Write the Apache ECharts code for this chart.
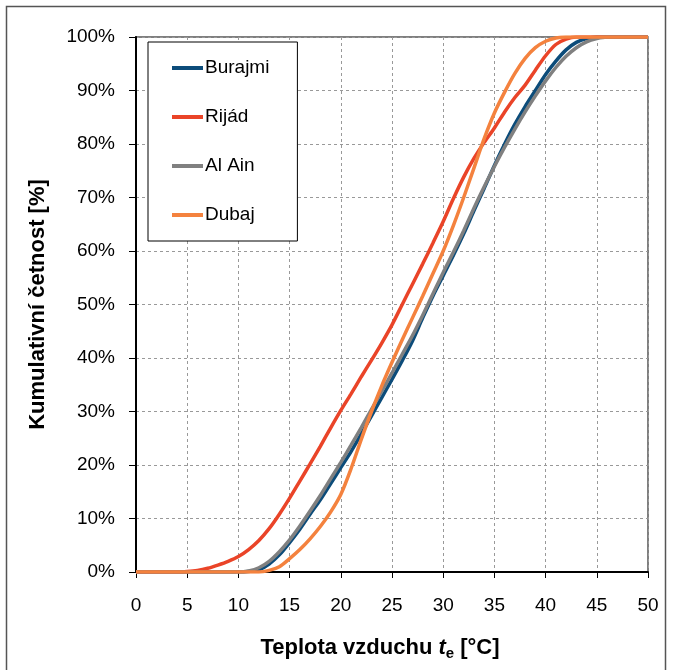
<!DOCTYPE html>
<html>
<head>
<meta charset="utf-8">
<script src="https://cdn.jsdelivr.net/npm/echarts@6/dist/echarts.min.js"></script>
<style>
  html, body { margin: 0; padding: 0; background: #fff; }
  #chart { width: 673px; height: 670px; }
</style>
</head>
<body>
<div id="chart"></div>
<script>
// teplota vzduchu [°C], krok 1 °C
var teploty = [0,1,2,3,4,5,6,7,8,9,10,11,12,13,14,15,16,17,18,19,20,21,22,23,24,25,
  26,27,28,29,30,31,32,33,34,35,36,37,38,39,40,41,42,43,44,45,46,47,48,49,50];

// kumulativni cetnost [%]
var burajmi = [0,0,0,0,0,0,0,0,0,0, 0,0.1,0.4,1.5,3.2,5.5,8,10.8,13.5,16.5,
  19.5,22.5,25.8,29.2,32.6,36,39.5,43.2,47.5,51.6, 55.4,59.2,63.2,67.5,71.7,76,80,83.7,87,90,
  93,95.5,97.6,99,99.7,100,100,100,100,100,100];
var rijad = [0,0,0,0,0,0.1,0.3,0.7,1.3,2,2.9,4.2,5.9,8.1,10.8,13.8,17,20.2,23.5,26.9,
  30.2,33.3,36.5,39.6,42.8,46.2,50,53.8,57.6,61.5, 65.5,69.8,73.8,77.3,80.3,83,86,88.7,91,93.8,
  96.5,98.6,99.6,100,100,100,100,100,100,100,100];
var alAin = [0,0,0,0,0,0,0,0,0,0, 0,0.2,0.8,2,3.8,6,8.6,11.4,14.3,17.4,
  20.5,23.7,27,30.4,33.8,37.2,40.7,44.2,48,52, 56,59.8,63.8,68,72,75.8,79.4,82.8,86,89,
  91.8,94.3,96.4,98,99.1,99.7,100,100,100,100,100];
var dubaj = [0,0,0,0,0,0,0,0,0,0, 0,0,0,0.3,1,2.5,4.2,6.2,8.5,11.2,
  14.5,19.3,24.8,30,34.8,39.2,43.4,47.5,51.6,55.8, 60,64.8,70,75.5,81,85.8,89.7,93.2,96,98,
  99.2,99.8,100,100,100,100,100,100,100,100,100];

var nazvy = ['Burajmi', 'Rijád', 'Al Ain', 'Dubaj'];
var barvy = ['#0C4C7A', '#EA4428', '#808080', '#F4823E'];
var hodnoty = [burajmi, rijad, alAin, dubaj];

var pismo = '"Liberation Sans", Arial, sans-serif';

function body(arr) {
  return teploty.map(function (x, i) { return [x, arr[i]]; });
}

var serie = nazvy.map(function (n, i) {
  return {
    name: n,
    type: 'line',
    data: body(hodnoty[i]),
    smooth: 0.3,
    showSymbol: false,
    symbol: 'none',
    lineStyle: { color: barvy[i], width: 3.5 },
    itemStyle: { color: barvy[i] }
  };
});

var chart = echarts.init(document.getElementById('chart'));
chart.setOption({
  animation: false,
  backgroundColor: '#fff',
  graphic: [{
    type: 'rect',
    shape: { x: 6.5, y: 6.5, width: 659, height: 680 },
    style: { fill: 'none', stroke: '#555', lineWidth: 1.5 },
    silent: true
  }, {
    type: 'rect',
    shape: { x: 136, y: 37, width: 512, height: 535 },
    style: { fill: 'none', stroke: '#555', lineWidth: 1.5 },
    silent: true
  }],
  grid: { left: 136, right: 25, top: 37, bottom: 98 },
  legend: {
    orient: 'vertical',
    left: 148,
    top: 42,
    icon: 'rect',
    itemWidth: 31,
    itemHeight: 4,
    itemGap: 29,
    padding: [16, 28, 16, 24],
    borderColor: '#000',
    borderWidth: 1,
    backgroundColor: '#fff',
    textStyle: { fontFamily: pismo, fontSize: 19, lineHeight: 20, color: '#000', padding: [0, 0, 0, -3] },
    data: nazvy
  },
  xAxis: {
    type: 'value',
    min: 0,
    max: 50,
    interval: 5,
    name: '{b|Teplota vzduchu }{i|t}{s|e}{b| [°C]}',
    nameLocation: 'middle',
    nameGap: 62,
    nameTextStyle: {
      padding: [0, 24, 0, 0],
      rich: {
        b: { fontFamily: pismo, fontSize: 22, fontWeight: 'bold', color: '#000' },
        i: { fontFamily: pismo, fontSize: 22, fontWeight: 'bold', fontStyle: 'italic', color: '#000' },
        s: { fontFamily: pismo, fontSize: 15, fontWeight: 'bold', color: '#000', padding: [12, 0, 0, 0] }
      }
    },
    axisLine: { onZero: false, lineStyle: { color: '#000', width: 2 } },
    axisTick: { show: true, length: 6, lineStyle: { color: '#000', width: 1 } },
    axisLabel: { fontFamily: pismo, fontSize: 19, color: '#000', margin: 24 },
    splitLine: { show: true, lineStyle: { color: '#999', type: [3, 3], width: 1 } }
  },
  yAxis: {
    type: 'value',
    min: 0,
    max: 100,
    interval: 10,
    name: 'Kumulativní četnost [%]',
    nameLocation: 'middle',
    nameGap: 87,
    nameTextStyle: { fontFamily: pismo, fontSize: 22, fontWeight: 'bold', color: '#000' },
    axisLine: { show: true, lineStyle: { color: '#000', width: 2 } },
    axisTick: { show: true, length: 7, lineStyle: { color: '#000', width: 1 } },
    axisLabel: { fontFamily: pismo, fontSize: 19, color: '#000', margin: 21, formatter: '{value}%' },
    splitLine: { show: true, lineStyle: { color: '#999', type: [3, 3], width: 1 } }
  },
  series: serie
});
</script>
</body>
</html>
